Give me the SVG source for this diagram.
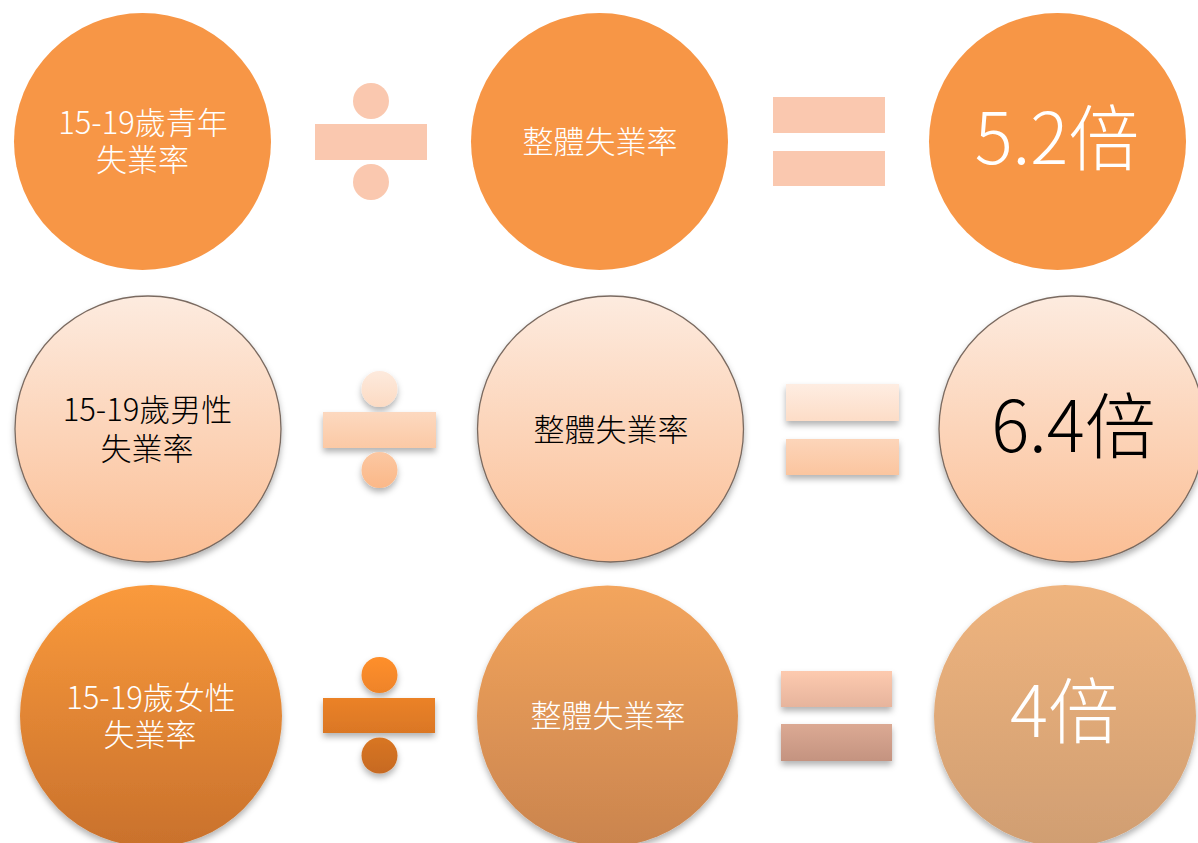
<svg xmlns="http://www.w3.org/2000/svg" width="1198" height="843" viewBox="0 0 1198 843">
<defs>
<style>
.t{font-family:"Noto Sans CJK TC","Noto Sans",sans-serif;text-anchor:middle;font-weight:300}
.m{font-size:31px}
.b{font-size:71px}
.w{fill:#FFFFFF}
.k{fill:#000000}
.r2{stroke:#7A6A60;stroke-width:1.3}
</style>
<linearGradient id="g2" x1="0" y1="0" x2="0" y2="1"><stop offset="0" stop-color="#FDEBDF"/><stop offset="1" stop-color="#FBBE94"/></linearGradient>
<linearGradient id="g2d" gradientUnits="userSpaceOnUse" x1="0" y1="371" x2="0" y2="488"><stop offset="0" stop-color="#FDEADD"/><stop offset="1" stop-color="#FBB888"/></linearGradient>
<linearGradient id="g2e" gradientUnits="userSpaceOnUse" x1="0" y1="384" x2="0" y2="475"><stop offset="0" stop-color="#FEEDE2"/><stop offset="1" stop-color="#FBC59F"/></linearGradient>
<linearGradient id="g3a" x1="0" y1="0" x2="0" y2="1"><stop offset="0" stop-color="#FA9A3C"/><stop offset="1" stop-color="#C9712C"/></linearGradient>
<linearGradient id="g3b" x1="0" y1="0" x2="0" y2="1"><stop offset="0" stop-color="#F3A55D"/><stop offset="1" stop-color="#CA844E"/></linearGradient>
<linearGradient id="g3c" x1="0" y1="0" x2="0" y2="1"><stop offset="0" stop-color="#EFB47E"/><stop offset="1" stop-color="#D09E72"/></linearGradient>
<linearGradient id="g3d" gradientUnits="userSpaceOnUse" x1="0" y1="657" x2="0" y2="773"><stop offset="0" stop-color="#FF8F2C"/><stop offset="1" stop-color="#C76A20"/></linearGradient>
<linearGradient id="g3e" gradientUnits="userSpaceOnUse" x1="0" y1="671" x2="0" y2="761"><stop offset="0" stop-color="#FDCAAF"/><stop offset="1" stop-color="#C49380"/></linearGradient>
<filter id="sh" x="-20%" y="-20%" width="140%" height="150%"><feDropShadow dx="0" dy="4" stdDeviation="3" flood-color="#000" flood-opacity="0.3"/></filter>
</defs>
<rect width="1198" height="843" fill="#FFFFFF"/>

<g id="row1-youth">
<circle cx="142.5" cy="141.5" r="128.5" fill="#F79646"/>
<text class="t m w"><tspan x="143" y="134">15-19歲青年</tspan><tspan x="142.5" y="170.5">失業率</tspan></text>
</g>
<g id="row1-divide" fill="#FAC8AF">
<circle cx="371" cy="101" r="18"/>
<rect x="315" y="124" width="112" height="36"/>
<circle cx="371" cy="182" r="18"/>
</g>
<g id="row1-overall">
<circle cx="599.5" cy="141.5" r="128.5" fill="#F79646"/>
<text class="t m w" x="600" y="153">整體失業率</text>
</g>
<g id="row1-equals" fill="#FAC8AF">
<rect x="773" y="97" width="112" height="36"/>
<rect x="773" y="151" width="112" height="35"/>
</g>
<g id="row1-result">
<circle cx="1057.5" cy="141.5" r="128.5" fill="#F79646"/>
<text class="t b w" x="1057" y="164">5.2倍</text>
</g>

<g id="row2-male">
<circle cx="148" cy="429" r="133" fill="url(#g2)" class="r2" filter="url(#sh)"/>
<text class="t m k"><tspan x="147.5" y="421">15-19歲男性</tspan><tspan x="147" y="460">失業率</tspan></text>
</g>
<g id="row2-divide" fill="url(#g2d)" filter="url(#sh)">
<circle cx="379.5" cy="389" r="18"/>
<rect x="323" y="412" width="113" height="36"/>
<circle cx="379.5" cy="470" r="18"/>
</g>
<g id="row2-overall">
<circle cx="610.5" cy="429" r="133" fill="url(#g2)" class="r2" filter="url(#sh)"/>
<text class="t m k" x="611" y="441">整體失業率</text>
</g>
<g id="row2-equals" fill="url(#g2e)" filter="url(#sh)">
<rect x="786" y="384" width="113" height="37"/>
<rect x="786" y="439" width="113" height="36"/>
</g>
<g id="row2-result">
<circle cx="1072" cy="429" r="133" fill="url(#g2)" class="r2" filter="url(#sh)"/>
<text class="t b k" x="1073.5" y="452">6.4倍</text>
</g>

<g id="row3-female">
<circle cx="151" cy="716" r="131" fill="url(#g3a)" filter="url(#sh)"/>
<text class="t m w"><tspan x="151" y="709">15-19歲女性</tspan><tspan x="150" y="746">失業率</tspan></text>
</g>
<g id="row3-divide" fill="url(#g3d)" filter="url(#sh)">
<circle cx="379.5" cy="675" r="18"/>
<rect x="323" y="698" width="112" height="35"/>
<circle cx="379.5" cy="755.5" r="18"/>
</g>
<g id="row3-overall">
<circle cx="607.5" cy="716" r="130.5" fill="url(#g3b)" filter="url(#sh)"/>
<text class="t m w" x="608" y="727">整體失業率</text>
</g>
<g id="row3-equals" fill="url(#g3e)" filter="url(#sh)">
<rect x="781" y="671" width="111" height="36"/>
<rect x="781" y="724" width="111" height="37"/>
</g>
<g id="row3-result">
<circle cx="1065" cy="716" r="131" fill="url(#g3c)" filter="url(#sh)"/>
<text class="t b w" x="1064.5" y="737">4倍</text>
</g>
<g id="connectors"/>
</svg>
